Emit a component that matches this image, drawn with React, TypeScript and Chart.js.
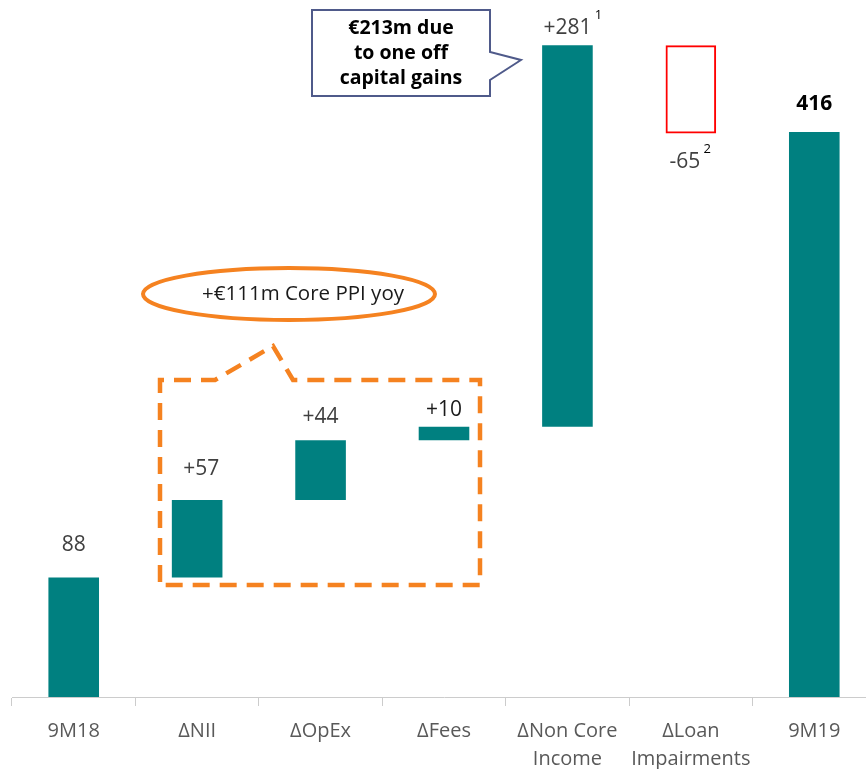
import React, { useEffect, useRef } from "react";
import { Chart, registerables } from "chart.js";

Chart.register(...registerables);

// ---- data ----
const categories: string[][] = [
  ["9M18"],
  ["ΔNII"],
  ["ΔOpEx"],
  ["ΔFees"],
  ["ΔNon Core", "Income"],
  ["ΔLoan", "Impairments"],
  ["9M19"],
];
const startValue = 88;
const deltas = [57, 44, 10, 281, -65];
const endValue = 416;
const valueLabels = ["88", "+57", "+44", "+10", "+281", "-65", "416"];
const footnotes = ["", "", "", "", "1", "2", ""];
const calloutLines = ["€213m due", "to one off", "capital gains"];
const ellipseText = "+€111m Core PPI yoy";

// ---- style ----
const TEAL = "#008080";
const ORANGE = "#f58220";
const FONT = "'Open Sans', 'Noto Sans', sans-serif";
const labelGap = [32, 31, 23, 17, 17, 29, 28];
const labelShift = [0, 4, 0, 0, 0, -6, 0];
const labelColor = ["#404040", "#404040", "#404040", "#1a1a1a", "#404040", "#404040", "#000000"];
const labelBold = [false, false, false, false, false, false, true];

function buildBars(): [number, number][] {
  const bars: [number, number][] = [[0, startValue]];
  let run = startValue;
  for (const d of deltas) {
    const next = run + d;
    bars.push([Math.min(run, next), Math.max(run, next)]);
    run = next;
  }
  bars.push([0, endValue]);
  return bars;
}

const labelsPlugin = {
  id: "wfLabels",
  afterDatasetsDraw(chart: any) {
    const ctx = chart.ctx;
    const meta = chart.getDatasetMeta(0);
    const ys = chart.scales.y;
    const bars = buildBars();
    ctx.save();
    ctx.textAlign = "center";
    ctx.textBaseline = "middle";
    meta.data.forEach((el: any, i: number) => {
      const isNeg = i > 0 && i <= deltas.length && deltas[i - 1] < 0;
      const x = el.x + labelShift[i];
      const y = isNeg
        ? ys.getPixelForValue(bars[i][0]) + labelGap[i]
        : ys.getPixelForValue(bars[i][1]) - labelGap[i];
      ctx.font = `${labelBold[i] ? "bold " : ""}21px ${FONT}`;
      ctx.fillStyle = labelColor[i];
      ctx.fillText(valueLabels[i], x, y);
      if (footnotes[i]) {
        const w = ctx.measureText(valueLabels[i]).width;
        ctx.font = `13px ${FONT}`;
        ctx.fillStyle = "#000";
        ctx.fillText(footnotes[i], x + w / 2 + 7, y - 13);
      }
    });
    ctx.restore();
  },
};

const annotationsPlugin = {
  id: "wfAnnotations",
  afterDraw(chart: any) {
    const ctx = chart.ctx;
    ctx.save();
    // callout box
    ctx.strokeStyle = "#4f5a8a";
    ctx.lineWidth = 2;
    ctx.fillStyle = "#ffffff";
    ctx.beginPath();
    ctx.moveTo(312, 10);
    ctx.lineTo(490, 10);
    ctx.lineTo(490, 52);
    ctx.lineTo(521, 60);
    ctx.lineTo(490, 80);
    ctx.lineTo(490, 96);
    ctx.lineTo(312, 96);
    ctx.closePath();
    ctx.fill();
    ctx.stroke();
    ctx.fillStyle = "#000";
    ctx.font = `bold 19.5px ${FONT}`;
    ctx.textAlign = "center";
    ctx.textBaseline = "middle";
    calloutLines.forEach((t, k) => ctx.fillText(t, 401, 28 + k * 25));

    // ellipse
    ctx.strokeStyle = ORANGE;
    ctx.lineWidth = 4;
    ctx.beginPath();
    ctx.ellipse(289, 294, 146, 26, 0, 0, Math.PI * 2);
    ctx.stroke();
    ctx.fillStyle = "#1a1a1a";
    ctx.font = `20.5px ${FONT}`;
    ctx.fillText(ellipseText, 303, 294);

    // dashed box with tail
    ctx.setLineDash([17, 10]);
    ctx.lineWidth = 4.5;
    ctx.beginPath();
    ctx.moveTo(160, 582);
    ctx.lineTo(160, 380);
    ctx.lineTo(215, 380);
    ctx.lineTo(273, 346);
    ctx.lineTo(293, 380);
    ctx.lineTo(480, 380);
    ctx.lineTo(480, 585);
    ctx.lineTo(163, 585);
    ctx.stroke();
    ctx.restore();
  },
};

export default function App() {
  const ref = useRef<HTMLCanvasElement>(null);
  useEffect(() => {
    if (!ref.current) return;
    const bars = buildBars();
    const n = bars.length;
    const chart = new Chart(ref.current, {
      type: "bar",
      data: {
        labels: categories,
        datasets: [
          {
            data: bars,
            backgroundColor: bars.map((_, i) =>
              i > 0 && i < n - 1 && deltas[i - 1] < 0 ? "rgba(0,0,0,0)" : TEAL
            ),
            borderColor: bars.map((_, i) =>
              i > 0 && i < n - 1 && deltas[i - 1] < 0 ? "#ff0000" : TEAL
            ),
            borderWidth: bars.map((_, i) =>
              i > 0 && i < n - 1 && deltas[i - 1] < 0 ? 2 : 0
            ),
            borderSkipped: false,
            barPercentage: 0.41,
            categoryPercentage: 1,
          } as any,
        ],
      },
      options: {
        animation: false,
        responsive: false,
        maintainAspectRatio: false,
        layout: { padding: { top: 18, left: 12, right: 0, bottom: 0 } },
        plugins: { legend: { display: false }, tooltip: { enabled: false } },
        scales: {
          x: {
            offset: true,
            grid: {
              offset: true,
              drawOnChartArea: false,
              drawTicks: true,
              tickLength: 9,
              color: "#cccccc",
            },
            border: { display: true, color: "#cccccc", width: 1 },
            ticks: {
              color: "#595959",
              padding: 11,
              font: { family: FONT, size: 20, lineHeight: 1.4 },
              maxRotation: 0,
              autoSkip: false,
            },
            afterFit: (scale: any) => {
              scale.height = 72;
            },
          },
          y: {
            display: false,
            min: 0,
            max: 500,
          },
        },
      },
      plugins: [labelsPlugin, annotationsPlugin],
    });
    return () => chart.destroy();
  }, []);
  return (
    <div
      style={{
        position: "absolute",
        left: 0,
        top: 0,
        width: 866,
        height: 769,
        overflow: "hidden",
        background: "#fff",
      }}
    >
      <canvas ref={ref} width={876} height={769} style={{ width: 876, height: 769, display: "block" }} />
    </div>
  );
}
